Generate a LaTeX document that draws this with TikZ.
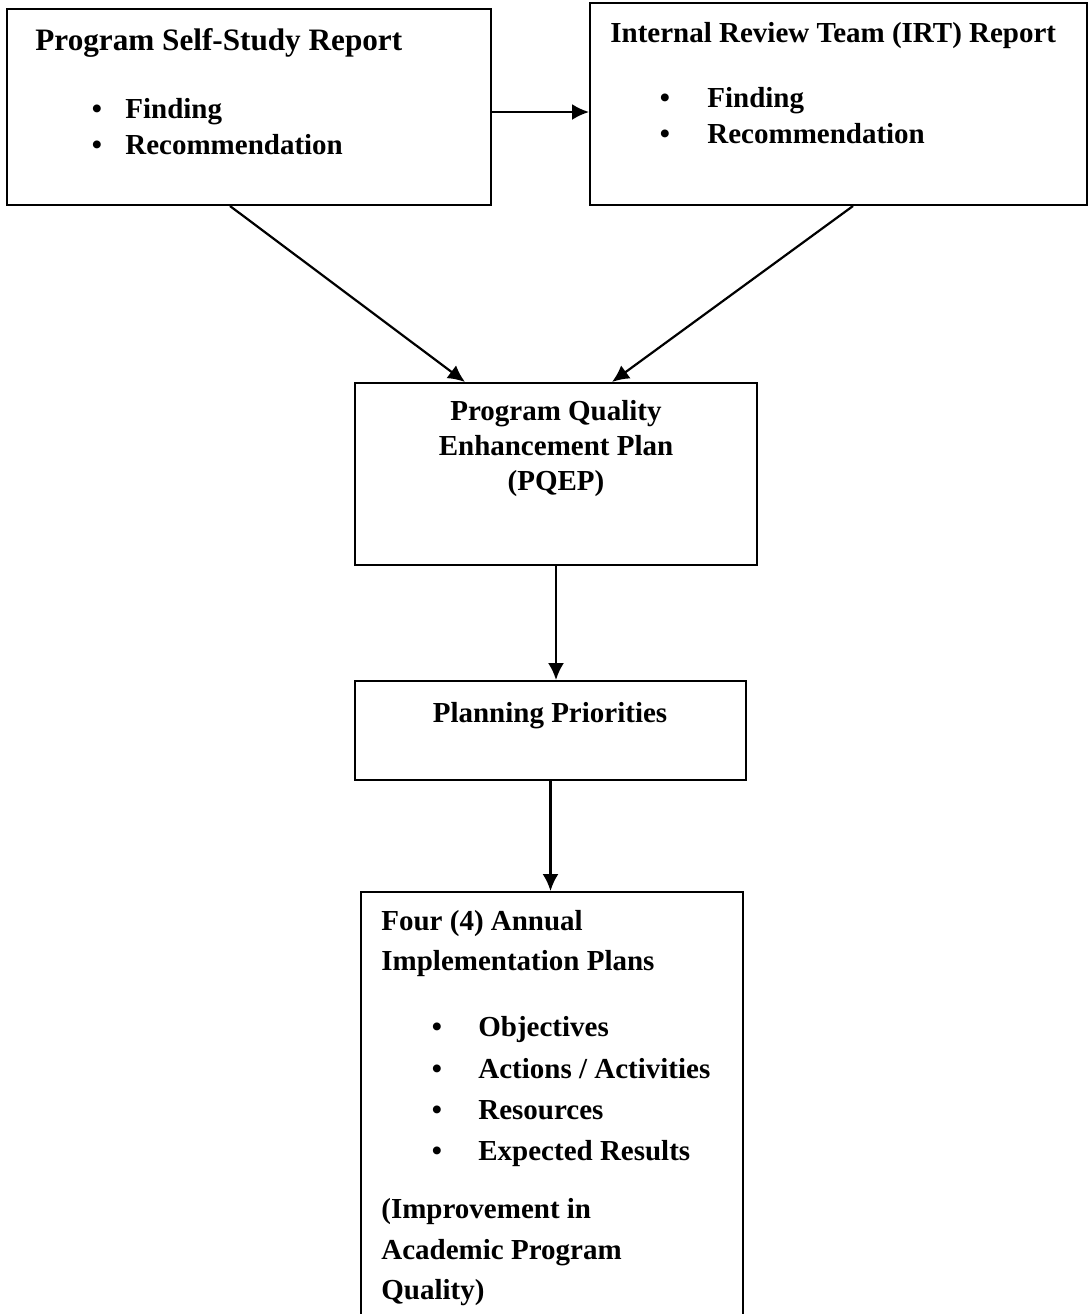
\documentclass[tikz,border=0pt]{standalone}
\usepackage{fontspec}
\setmainfont{Liberation Serif}
\usetikzlibrary{arrows.meta,shapes}
\tikzstyle{box}=[draw,rectangle,line width=1pt,inner sep=0pt]
\tikzstyle{txt}=[inner sep=0pt,anchor=base west,font=\fontsize{14.5}{17}\selectfont\bfseries]
\tikzstyle{ctxt}=[txt,anchor=base]
\tikzstyle{link}=[draw,line width=1.1pt,-{Latex[length=8.5pt,width=8pt]}]

\begin{document}
\begin{tikzpicture}[x=0.5pt,y=-0.5pt]
    \useasboundingbox (0,0) rectangle (1089,1314);
    % First we draw the boxes
    \node[box,minimum width=242pt,minimum height=98pt] (self) at (249,107) {};
    \node[box,minimum width=248.5pt,minimum height=101pt] (irt) at (838.5,104) {};
    \node[box,minimum width=201pt,minimum height=91pt] (pqep) at (556,474) {};
    \node[box,minimum width=195.5pt,minimum height=49.5pt] (plan) at (550.5,730.5) {};
    \node[box,minimum width=191pt,minimum height=225pt,anchor=north] (annual) at (552,891) {};
    % Texts inside the boxes
    \node[txt,font=\fontsize{15.6}{18}\selectfont\bfseries] (selftitle) at (35,50) {Program Self-Study Report};
    \foreach \y/\name/\lbl in {118/selfa/Finding, 154/selfb/Recommendation}{
        \node[ctxt] (\name dot) at (97,\y) {•};
        \node[txt] (\name) at (125,\y) {\lbl};
    }
    \node[txt] (irttitle) at (610,42) {Internal Review Team (IRT) Report};
    \foreach \y/\name/\lbl in {107/irta/Finding, 143/irtb/Recommendation}{
        \node[ctxt] (\name dot) at (665,\y) {•};
        \node[txt] (\name) at (707,\y) {\lbl};
    }
    \foreach \y/\name/\lbl in {420/pqepa/Program Quality, 455/pqepb/Enhancement Plan, 490/pqepc/(PQEP)}
        \node[ctxt] (\name) at (556,\y) {\lbl};
    \node[ctxt] (plantext) at (550,722) {Planning Priorities};
    \foreach \y/\name/\lbl in {930/anna/Four (4) Annual, 970/annb/Implementation Plans, 1218/annc/(Improvement in, 1259/annd/Academic Program, 1299/anne/Quality)}
        \node[txt] (\name) at (381,\y) {\lbl};
    \foreach \y/\name/\lbl in {1036/obj/{Objectives}, 1078/act/{Actions / Activities}, 1119/res/{Resources}, 1160/exp/{Expected Results}}{
        \node[ctxt] (\name dot) at (437,\y) {•};
        \node[txt] (\name) at (478,\y) {\lbl};
    }
    % Connect boxes with arrows
    \draw[link] ([yshift=-2.5pt]self.east) -- ([yshift=-2.5pt]self.east -| irt.west);
    \draw[link] ([xshift=-9.5pt]self.south) -- ([xshift=-45.5pt]pqep.north);
    \draw[link] ([xshift=7.25pt]irt.south) -- ([xshift=28pt]pqep.north);
    \draw[link] (pqep.south) -- (pqep.south |- plan.north);
    \draw[link] (plan.south) -- (plan.south |- annual.north);
\end{tikzpicture}
\end{document}
